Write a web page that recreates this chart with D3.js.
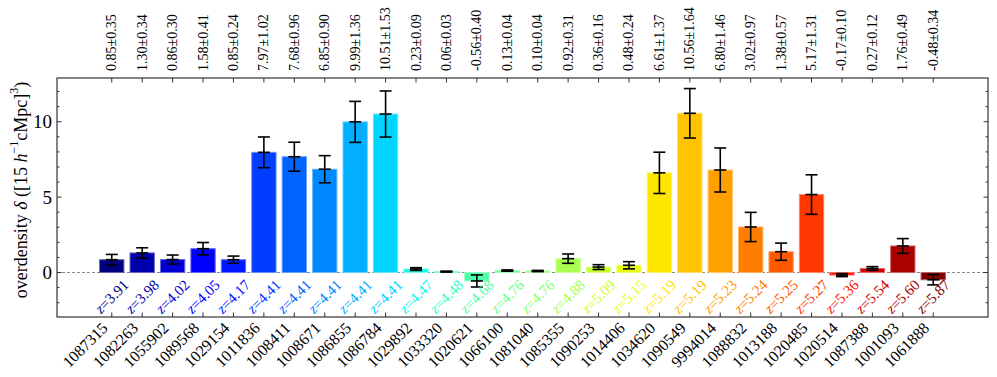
<!DOCTYPE html>
<html>
<head>
<meta charset="utf-8">
<script src="https://cdn.jsdelivr.net/npm/d3@7.9.0/dist/d3.min.js"></script>
<style>
body { margin: 0; background: #fff; }
text { font-family: "Liberation Serif", "Times New Roman", serif; fill: #000; }
</style>
</head>
<body>
<svg width="997" height="377"></svg>
<script>
const ids = ['1087315', '1082263', '1055902', '1089568', '1029154', '1011836', '1008411',
    '1008671', '1086855', '1086784', '1029892', '1033320', '1020621', '1066100', '1081040',
    '1085355', '1090253', '1014406', '1034620', '1090549', '9994014', '1088832', '1013188',
    '1020485', '1020514', '1087388', '1001093', '1061888'];
const redshifts = [3.91, 3.98, 4.02, 4.05, 4.17, 4.41, 4.41, 4.41, 4.41, 4.41, 4.47, 4.48, 4.68,
    4.76, 4.76, 4.88, 5.09, 5.15, 5.19, 5.19, 5.23, 5.24, 5.25, 5.27, 5.36, 5.54, 5.60, 5.87];
const delta = [0.85, 1.30, 0.86, 1.58, 0.85, 7.97, 7.68, 6.85, 9.99, 10.51, 0.23, 0.06, -0.56,
    0.13, 0.10, 0.92, 0.36, 0.48, 6.61, 10.56, 6.80, 3.02, 1.38, 5.17, -0.17, 0.27, 1.76, -0.48];
const deltaErr = [0.35, 0.34, 0.30, 0.41, 0.24, 1.02, 0.96, 0.90, 1.36, 1.53, 0.09, 0.03, 0.40,
    0.04, 0.04, 0.31, 0.16, 0.24, 1.37, 1.64, 1.46, 0.97, 0.57, 1.31, 0.10, 0.12, 0.49, 0.34];
const yMajor = [0, 5, 10];

const pL = 57, pR = 988, pT = 78, pB = 317;
const svg = d3.select('svg');

const x = d3.scaleLinear().domain([-1.8, ids.length - 1 + 1.8]).range([pL, pR]);
const y = d3.scaleLinear().domain([-2.95, 12.9]).range([pB, pT]);
const barW = x(0.4) - x(-0.4);

// matplotlib "jet" built from its channel breakpoints
const jr = d3.scaleLinear().domain([0, 0.35, 0.66, 0.89, 1]).range([0, 0, 1, 1, 0.5]);
const jg = d3.scaleLinear().domain([0, 0.125, 0.375, 0.64, 0.91, 1]).range([0, 0, 1, 1, 0, 0]);
const jb = d3.scaleLinear().domain([0, 0.11, 0.34, 0.65, 1]).range([0.5, 1, 1, 0, 0]);
const jet = (t) => d3.rgb(jr(t) * 255, jg(t) * 255, jb(t) * 255).formatHex();
const color = (i) => jet(i / (ids.length - 1));

// zero line
svg.append('line')
    .attr('x1', pL).attr('x2', pR)
    .attr('y1', y(0)).attr('y2', y(0))
    .attr('stroke', '#888').attr('stroke-width', 1)
    .attr('stroke-dasharray', '3,2');

// bars
delta.forEach((d, i) => {
    const c = color(i);
    svg.append('rect')
        .attr('x', x(i) - barW / 2)
        .attr('y', y(Math.max(0, d)))
        .attr('width', barW)
        .attr('height', Math.abs(y(d) - y(0)))
        .attr('fill', c)
        .attr('stroke', d3.interpolateRgb(c, '#fff')(0.4))
        .attr('stroke-width', 1);
});

// error bars with a marker at the value
const cap = 6;
delta.forEach((d, i) => {
    const g = svg.append('g').attr('stroke', '#000').attr('stroke-width', 1.6);
    const cx = x(i);
    g.append('line').attr('x1', cx).attr('x2', cx)
        .attr('y1', y(d - deltaErr[i])).attr('y2', y(d + deltaErr[i]));
    [d - deltaErr[i], d, d + deltaErr[i]].forEach((v) => {
        g.append('line').attr('x1', cx - cap).attr('x2', cx + cap)
            .attr('y1', y(v)).attr('y2', y(v));
    });
});

// redshift labels inside the plot
redshifts.forEach((z, i) => {
    const t = svg.append('text')
        .attr('transform', `translate(${x(i)},${y(-1.6)}) rotate(-45)`)
        .attr('text-anchor', 'middle')
        .attr('dominant-baseline', 'central')
        .attr('font-size', 15)
        .style('fill', color(i));
    t.append('tspan').attr('font-style', 'italic').text('z');
    t.append('tspan').text('=' + z.toFixed(2));
});

// frame
svg.append('rect')
    .attr('x', pL).attr('y', pT)
    .attr('width', pR - pL).attr('height', pB - pT)
    .attr('fill', 'none').attr('stroke', '#333').attr('stroke-width', 1.2);

// x ticks (top and bottom, inward)
const tk = svg.append('g').attr('stroke', '#333').attr('stroke-width', 1);
ids.forEach((_, i) => {
    tk.append('line').attr('x1', x(i)).attr('x2', x(i)).attr('y1', pT).attr('y2', pT + 4.5);
    tk.append('line').attr('x1', x(i)).attr('x2', x(i)).attr('y1', pB).attr('y2', pB - 4.5);
});

// y ticks (left and right, inward)
d3.range(-2, 13).forEach((v) => {
    const len = yMajor.includes(v) ? 4.5 : 2.5;
    tk.append('line').attr('x1', pL).attr('x2', pL + len).attr('y1', y(v)).attr('y2', y(v));
    tk.append('line').attr('x1', pR).attr('x2', pR - len).attr('y1', y(v)).attr('y2', y(v));
});

yMajor.forEach((v) => {
    svg.append('text')
        .attr('x', pL - 5).attr('y', y(v))
        .attr('text-anchor', 'end')
        .attr('dominant-baseline', 'central')
        .attr('font-size', 19)
        .text(v);
});

// ids below the axis
ids.forEach((id, i) => {
    svg.append('text')
        .attr('transform', `translate(${x(i) - 3},${pB + 12}) rotate(-45)`)
        .attr('text-anchor', 'end')
        .attr('font-size', 16)
        .text(id);
});

// values above the axis
delta.forEach((d, i) => {
    svg.append('text')
        .attr('transform', `translate(${x(i)},${pT - 7}) rotate(-90)`)
        .attr('text-anchor', 'start')
        .attr('dominant-baseline', 'central')
        .attr('font-size', 14)
        .text(d.toFixed(2) + '±' + deltaErr[i].toFixed(2));
});

// y label
const yl = svg.append('text')
    .attr('transform', `translate(21,190) rotate(-90)`)
    .attr('text-anchor', 'middle')
    .attr('dominant-baseline', 'central')
    .attr('font-size', 18);
yl.append('tspan').text('overdensity ');
yl.append('tspan').attr('font-style', 'italic').text('δ');
yl.append('tspan').text(' ([15 ');
yl.append('tspan').attr('font-style', 'italic').text('h');
yl.append('tspan').attr('font-size', 12).attr('dy', -7).text('−1');
yl.append('tspan').attr('dy', 7).text('cMpc]');
yl.append('tspan').attr('font-size', 12).attr('dy', -7).text('3');
yl.append('tspan').attr('dy', 7).text(')');
</script>
</body>
</html>
